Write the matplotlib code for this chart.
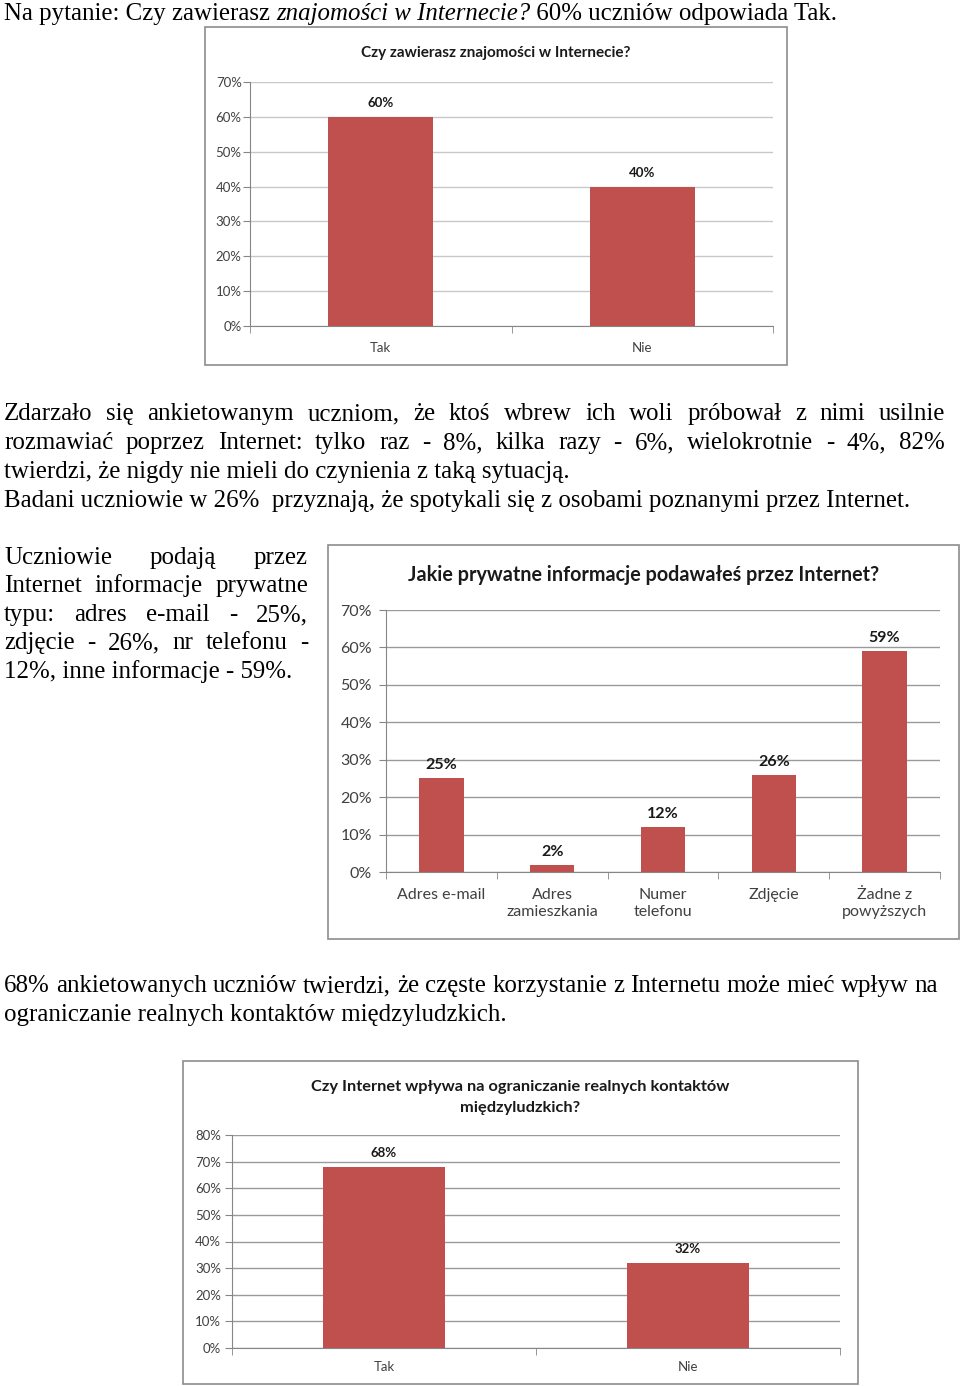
import matplotlib
matplotlib.use("Agg")
import matplotlib.pyplot as plt
from matplotlib.patches import Rectangle
from matplotlib.ticker import FixedLocator

W, H = 960, 1386
DPI = 100

# ---------------- data ----------------
c1_title = "Czy zawierasz znajomości w Internecie?"
c1_cats = ["Tak", "Nie"]
c1_vals = [60, 40]

c2_title = "Jakie prywatne informacje podawałeś przez Internet?"
c2_cats = ["Adres e-mail", "Adres\nzamieszkania", "Numer\ntelefonu", "Zdjęcie", "Żadne z\npowyższych"]
c2_vals = [25, 2, 12, 26, 59]

c3_title = "Czy Internet wpływa na ograniczanie realnych kontaktów\nmiędzyludzkich?"
c3_cats = ["Tak", "Nie"]
c3_vals = [68, 32]

BAR = "#C0504D"
SERIF = "Liberation Serif"
SANS = "Lato"

fig = plt.figure(figsize=(W / DPI, H / DPI), dpi=DPI)
fig.patch.set_facecolor("white")
renderer = fig.canvas.get_renderer()


def fx(px):
    return px / W


def fy(py):
    return 1 - py / H


TFS = 17.9  # body text size


def text_w(s, **kw):
    t = fig.text(0, 0, s, **kw)
    w = t.get_window_extent(renderer).width
    t.remove()
    return w


def draw_segments(x, y, segs, fs=TFS):
    for s, style in segs:
        kw = dict(fontsize=fs, family=SERIF, style=style, va="baseline", ha="left")
        t = fig.text(fx(x), fy(y), s, transform=fig.transFigure, **kw)
        x += t.get_window_extent(renderer).width
    return x


def justify(x0, x1, y, line, fs=TFS):
    words = line.split()
    kw = dict(fontsize=fs, family=SERIF)
    widths = [text_w(w, **kw) for w in words]
    gap = (x1 - x0 - sum(widths)) / (len(words) - 1)
    x = x0
    for w, wd in zip(words, widths):
        fig.text(fx(x), fy(y), w, va="baseline", ha="left", **kw)
        x += wd + gap


def plain(x, y, line, fs=TFS):
    fig.text(fx(x), fy(y), line, va="baseline", ha="left", fontsize=fs, family=SERIF)


# ---------------- body text ----------------
draw_segments(4, 20, [("Na pytanie: Czy zawierasz ", "normal"),
                      ("znajomości w Internecie?", "italic"),
                      (" 60% uczniów odpowiada Tak.", "normal")])

justify(4, 945, 420, "Zdarzało się ankietowanym uczniom, że ktoś wbrew ich woli próbował z nimi usilnie")
justify(4, 945, 449, "rozmawiać poprzez Internet: tylko raz - 8%, kilka razy - 6%, wielokrotnie - 4%, 82%")
plain(4, 478, "twierdzi, że nigdy nie mieli do czynienia z taką sytuacją.")
plain(4, 507, "Badani uczniowie w 26%  przyznają, że spotykali się z osobami poznanymi przez Internet.")

justify(4, 308, 564, "Uczniowie podają przez")
justify(4, 308, 592, "Internet informacje prywatne")
justify(4, 308, 621, "typu: adres e-mail - 25%,")
justify(4, 308, 649, "zdjęcie - 26%, nr telefonu -")
plain(4, 678, "12%, inne informacje - 59%.")

justify(4, 938, 992, "68% ankietowanych uczniów twierdzi, że częste korzystanie z Internetu może mieć wpływ na")
plain(4, 1021, "ograniczanie realnych kontaktów międzyludzkich.")


# ---------------- charts ----------------
def chart(frame, axbox, title, title_y, title_fs, cats, vals, ymax, tick_fs,
          lab_fs, lab_off, bar_w, grid_col, cat_y, ypad, tls=1.5):
    fl, ft, fr, fb = frame
    fig.patches.append(Rectangle((fx(fl), fy(fb)), fx(fr) - fx(fl), fy(ft) - fy(fb),
                                 transform=fig.transFigure, fill=False,
                                 edgecolor="#8C8C8C", linewidth=1.2, zorder=0))
    al, at, ar, ab = axbox
    ax = fig.add_axes([fx(al), fy(ab), fx(ar) - fx(al), fy(at) - fy(ab)])
    n = len(cats)
    x = list(range(n))
    ax.bar(x, vals, width=bar_w, color=BAR, zorder=3)
    ax.set_xlim(-0.5, n - 0.5)
    ax.set_ylim(0, ymax)
    yt = list(range(0, ymax + 1, 10))
    ax.yaxis.set_major_locator(FixedLocator(yt))
    ax.grid(axis="y", color=grid_col, linewidth=1.0, zorder=0)
    for s in ["top", "right"]:
        ax.spines[s].set_visible(False)
    ax.spines["left"].set_color("#868686")
    ax.spines["bottom"].set_color("#868686")
    ax.tick_params(axis="y", length=5, color="#868686", labelsize=tick_fs,
                   labelcolor="#404040", pad=ypad)
    ax.set_yticklabels([f"{v}%" for v in yt], family=SANS)
    ax.set_xticks(x)
    ax.set_xticklabels([])
    ax.tick_params(axis="x", which="major", length=0)
    ax.xaxis.set_minor_locator(FixedLocator([i - 0.5 for i in range(n + 1)]))
    ax.tick_params(axis="x", which="minor", length=5, color="#868686")
    for xi, c in zip(x, cats):
        xpix = al + (xi + 0.5) * (ar - al) / n
        fig.text(fx(xpix), fy(cat_y), c, ha="center", va="top", fontsize=tick_fs,
                 family=SANS, color="#404040", linespacing=1.25)
    for xi, v in zip(x, vals):
        ax.annotate(f"{v}%", (xi, v), xytext=(0, lab_off), textcoords="offset pixels",
                    ha="center", va="bottom", fontsize=lab_fs, fontweight="bold",
                    family=SANS, color="#1a1a1a")
    cx = (fl + fr) / 2
    fig.text(fx(cx), fy(title_y), title, ha="center", va="top", fontsize=title_fs,
             fontweight="bold", family=SANS, color="#1a1a1a", linespacing=tls)
    return ax


chart((205, 27, 787, 365), (250, 82, 773, 326), c1_title, 46, 11, c1_cats, c1_vals,
      70, 9.5, 9.5, 8, 0.4, "#C8C8C8", 342, 1)

chart((328, 545, 959, 939), (386, 610, 940, 872), c2_title, 565, 14.2, c2_cats, c2_vals,
      70, 11.5, 11.5, 6, 0.4, "#9A9A9A", 888, 5)

chart((183, 1061, 858, 1384), (232, 1135, 840, 1348), c3_title, 1080, 11.8, c3_cats, c3_vals,
      80, 9.5, 9.5, 8, 0.4, "#9A9A9A", 1361, 3, tls=1.65)

fig.savefig("out.png", dpi=DPI, facecolor="white")
